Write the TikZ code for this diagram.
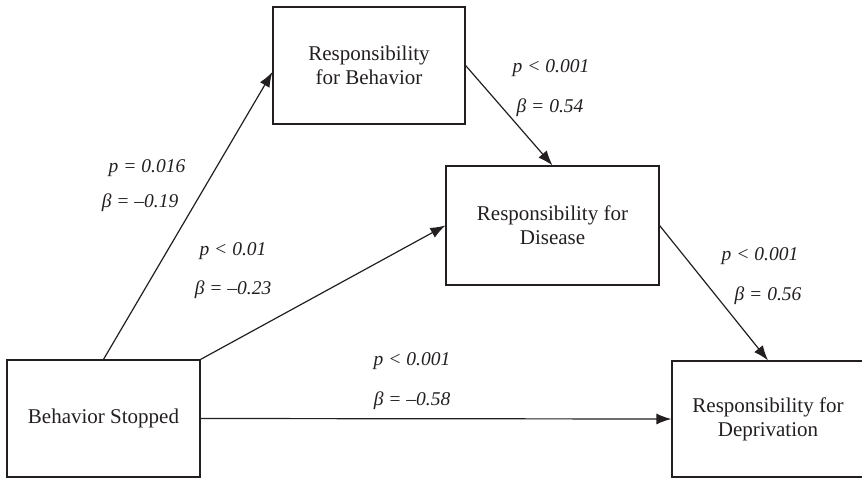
\documentclass[tikz,border=0pt]{standalone}
\usepackage{fontspec}
\setmainfont{Liberation Serif}
\usetikzlibrary{arrows.meta,calc}
\definecolor{ink}{HTML}{231F20}
\begin{document}
\begin{tikzpicture}[x=1pt,y=-1pt,
  box/.style={draw=ink,line width=1.2pt,rectangle,align=center,inner sep=0pt,
    font=\fontsize{21}{24}\selectfont,text=ink},
  conn/.style={draw=ink,line width=1.2pt,-{Latex[length=15pt,width=11pt]}},
  lbl/.style={anchor=base,inner sep=0pt,font=\fontsize{19.5}{23}\selectfont\itshape,text=ink}]
\useasboundingbox (0,0) rectangle (862,479);
\node[box,minimum width=192pt,minimum height=117pt] (RB) at (369,65.5) {Responsibility\\for Behavior};
\node[box,minimum width=213pt,minimum height=119pt] (RD) at (552.5,225.5) {Responsibility for\\Disease};
\node[box,minimum width=193pt,minimum height=117pt] (BS) at (103.5,418.5) {Behavior Stopped};
\node[box,minimum width=192pt,minimum height=116pt] (RDep) at (768,419) {Responsibility for\\Deprivation};
\coordinate (RBin) at ($(RB.west)+(0,6.5)$);
\draw[conn] (BS.north) -- (RBin);
\draw[conn] (BS.north east) -- (RD.west);
\draw[conn] (BS.east) -- (RDep.west);
\draw[conn] (RB.east) -- (RD.north);
\draw[conn] (RD.east) -- (RDep.north);
\node[lbl] (l1) at (147,172) {p = 0.016};
\node[lbl] (l2) at (140,207) {β = –0.19};
\node[lbl] (l3) at (233,255) {p < 0.01};
\node[lbl] (l4) at (233,294) {β = –0.23};
\node[lbl] (l5) at (551,72) {p < 0.001};
\node[lbl] (l6) at (550,112) {β = 0.54};
\node[lbl] (l7) at (760,260) {p < 0.001};
\node[lbl] (l8) at (768,300) {β = 0.56};
\node[lbl] (l9) at (412,365) {p < 0.001};
\node[lbl] (l10) at (412,405) {β = –0.58};
\end{tikzpicture}
\end{document}
